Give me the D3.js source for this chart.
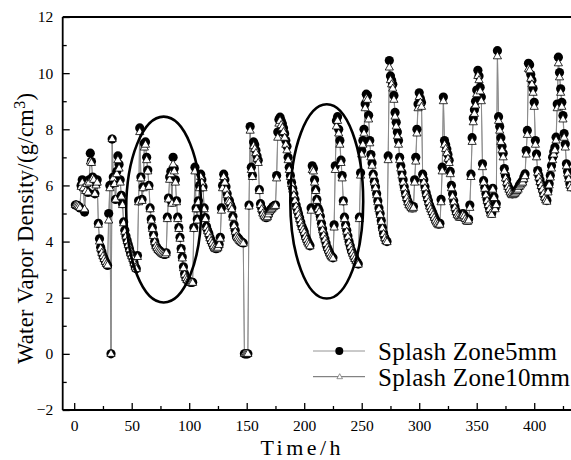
<!DOCTYPE html>
<html><head><meta charset="utf-8">
<script src="https://cdn.jsdelivr.net/npm/d3@7"></script>
<style>body{margin:0;background:#fff}svg{display:block}</style>
</head><body><svg id="c" width="571" height="460"></svg>
<script>
// hourly samples starting at hour 1
const startHour = 1;
const seriesNames = ["Splash Zone5mm", "Splash Zone10mm"];
const zone5mm = [
5.3,5.3,5.28,5.25,5.2,6.0,6.2,5.95,5.05,5.85,
6.1,5.75,6.2,7.15,6.85,6.3,6.25,5.7,6.05,6.2,
4.65,4.1,3.8,3.65,3.5,3.4,3.3,3.22,3.15,5.0,
6.0,0,7.65,6.3,6.1,5.5,6.5,7.05,6.75,6.2,
5.65,5.35,4.7,4.4,4.2,4.05,3.9,3.75,3.6,3.5,
3.4,3.25,3.1,3.03,3.5,5.45,8.05,6.3,5.5,5.95,
7.5,7.55,7.0,6.55,6.0,5.2,4.8,4.5,4.25,4.0,
3.85,3.78,3.72,3.68,3.64,3.6,3.57,3.55,3.54,3.6,
4.87,5.55,6.3,6.5,5.4,7.0,6.6,6.2,5.45,4.87,
4.5,4.15,3.75,3.45,3.1,2.85,2.72,2.65,2.6,2.57,
2.55,2.55,2.55,4.5,6.65,5.2,4.8,5.45,6.0,6.4,
6.2,5.95,5.2,4.85,4.55,4.4,4.3,4.15,4.05,3.95,
3.85,3.78,3.75,3.75,3.8,3.9,4.15,5.2,6.0,6.4,
6.2,5.95,5.7,5.5,5.45,5.3,5.2,4.9,4.6,4.4,
4.2,4.15,4.1,4.05,4.0,3.97,3.95,0,0,0,
0,5.3,8.1,6.65,6.35,7.55,7.45,7.25,7.05,6.9,
5.85,5.35,5.2,5.05,4.95,4.9,4.85,4.9,5.0,5.1,
5.15,5.2,5.25,5.28,5.3,6.35,7.9,8.35,8.43,8.3,
8.2,8.05,7.85,7.6,7.4,7.0,6.65,6.35,6.1,5.9,
5.7,5.5,5.3,5.15,5.0,4.85,4.7,4.55,4.45,4.35,
4.2,4.1,4.0,3.92,3.85,5.2,6.7,6.6,6.2,5.85,
5.5,5.2,5.1,4.9,4.65,4.45,4.25,4.1,3.95,3.8,
3.7,3.6,3.52,3.46,3.42,4.6,6.7,8.3,8.45,8.0,
7.6,6.9,6.35,5.45,4.87,4.6,4.4,4.2,4.0,3.85,
3.7,3.6,3.5,3.4,3.32,3.25,3.2,4.87,6.45,7.25,
7.6,8.0,8.9,9.25,9.2,8.5,7.6,7.1,6.8,6.4,
6.15,5.95,5.7,5.45,5.2,5.0,4.75,4.5,4.3,4.15,
4.05,4.0,7.05,10.45,9.9,9.75,9.6,9.2,8.6,8.25,
7.9,7.6,7.0,6.7,6.45,6.2,5.95,5.75,5.6,5.45,
5.35,5.3,5.25,5.2,5.25,6.2,7.0,8.0,8.9,9.3,
9.1,8.95,6.4,6.2,5.95,5.75,5.6,5.45,5.3,5.2,
5.1,5.0,4.9,4.8,4.72,4.66,4.62,4.65,5.5,6.65,
9.15,7.6,7.45,7.3,7.1,6.9,6.5,6.0,5.7,5.45,
5.25,5.1,5.0,4.95,4.9,4.9,4.95,5.0,4.95,4.85,
4.78,4.75,4.8,5.3,6.4,7.7,8.4,8.7,9.0,9.4,
10.1,9.9,9.5,9.15,6.77,6.17,5.93,5.7,5.5,5.35,
5.2,5.05,5.0,5.9,5.6,5.2,5.35,10.8,8.45,8.1,
7.7,7.4,7.15,6.6,6.35,6.2,6.0,5.9,5.8,5.72,
5.7,5.72,5.76,5.8,5.85,5.9,6.0,6.06,6.12,6.17,
6.3,6.41,7.24,7.96,10.35,10.3,9.95,9.75,9.45,8.96,
7.6,7.12,6.53,6.35,6.2,6.05,5.9,5.75,5.62,5.52,
5.46,5.82,6.06,6.35,6.7,7.0,7.2,7.36,7.72,8.9,
10.57,10.02,9.44,8.96,8.49,7.85,7.48,6.77,6.5,6.3,
6.06,5.95
];
const zone10mm = [
5.3,5.3,5.28,5.25,5.2,5.95,6.1,5.9,5.15,5.8,
6.05,5.75,6.1,6.85,6.8,6.25,6.2,5.7,6.0,6.1,
4.6,4.0,3.75,3.6,3.48,3.38,3.28,3.2,3.15,4.75,
5.9,0,7.65,6.25,6.05,5.5,6.4,6.9,6.6,6.1,
5.6,5.3,4.65,4.35,4.18,4.02,3.88,3.73,3.58,3.48,
3.38,3.23,3.08,3.02,3.45,5.4,7.9,6.25,5.45,5.9,
7.35,7.45,6.9,6.5,5.95,5.15,4.75,4.45,4.2,3.98,
3.83,3.76,3.7,3.66,3.62,3.58,3.55,3.53,3.52,3.58,
4.8,5.5,6.2,6.4,5.35,6.75,6.5,6.1,5.4,4.8,
4.45,4.1,3.7,3.4,3.05,2.82,2.7,2.63,2.58,2.55,
2.53,2.53,2.53,4.45,6.5,5.15,4.75,5.4,5.9,6.3,
6.1,5.9,5.15,4.8,4.5,4.37,4.27,4.12,4.02,3.93,
3.83,3.76,3.73,3.73,3.78,3.88,4.1,5.1,5.9,6.3,
6.1,5.85,5.65,5.45,5.4,5.25,5.15,4.85,4.55,4.35,
4.18,4.12,4.07,4.02,3.98,3.95,3.93,0,0,0,
0,5.25,7.95,6.55,6.3,7.4,7.3,7.15,6.95,6.8,
5.8,5.3,5.15,5.0,4.92,4.87,4.83,4.87,4.97,5.07,
5.12,5.17,5.22,5.25,5.27,6.25,7.7,8.2,8.3,8.15,
8.05,7.9,7.7,7.45,7.25,6.9,6.55,6.3,6.05,5.85,
5.65,5.45,5.25,5.1,4.95,4.8,4.66,4.52,4.42,4.32,
4.17,4.07,3.97,3.9,3.83,5.1,6.55,6.5,6.1,5.8,
5.45,5.15,5.05,4.85,4.6,4.4,4.22,4.07,3.92,3.78,
3.68,3.58,3.5,3.44,3.4,4.5,6.55,8.1,8.3,7.85,
7.45,6.8,6.25,5.4,4.8,4.55,4.35,4.17,3.97,3.82,
3.68,3.57,3.47,3.38,3.3,3.23,3.18,4.8,6.35,7.1,
7.45,7.85,8.75,9.1,9.05,8.35,7.5,7.0,6.7,6.35,
6.1,5.9,5.65,5.4,5.15,4.95,4.7,4.47,4.27,4.12,
4.02,3.98,6.9,10.2,9.75,9.6,9.45,9.05,8.45,8.1,
7.75,7.45,6.9,6.6,6.35,6.1,5.9,5.7,5.55,5.4,
5.3,5.25,5.2,5.15,5.2,6.1,6.85,7.85,8.75,9.15,
8.95,8.8,6.3,6.1,5.9,5.7,5.55,5.4,5.25,5.15,
5.05,4.95,4.85,4.75,4.68,4.62,4.58,4.6,5.4,6.5,
9.0,7.45,7.3,7.15,6.95,6.8,6.4,5.9,5.6,5.4,
5.2,5.05,4.95,4.9,4.85,4.85,4.9,4.95,4.9,4.8,
4.73,4.7,4.75,5.2,6.3,7.55,8.25,8.55,8.85,9.25,
9.9,9.75,9.35,9.0,6.65,6.1,5.88,5.65,5.45,5.3,
5.15,5.0,4.95,5.85,5.55,5.15,5.3,10.6,8.3,7.95,
7.55,7.25,7.0,6.5,6.25,6.1,5.95,5.85,5.75,5.68,
5.65,5.67,5.7,5.75,5.8,5.85,5.95,6.0,6.06,6.1,
6.22,6.33,7.1,7.8,10.15,10.1,9.8,9.6,9.3,8.8,
7.45,7.0,6.45,6.28,6.12,5.98,5.85,5.7,5.57,5.47,
5.42,5.75,6.0,6.28,6.6,6.9,7.1,7.25,7.6,8.75,
10.35,9.85,9.3,8.8,8.35,7.7,7.35,6.68,6.42,6.22,
6.0,5.9
];
const xTicks = [0, 50, 100, 150, 200, 250, 300, 350, 400];
const xMinorTicks = [25, 75, 125, 175, 225, 275, 325, 375, 425];
const yTicks = [-2, 0, 2, 4, 6, 8, 10, 12];
const yMinorTicks = [-1, 1, 3, 5, 7, 9, 11];
// highlighted regions (hour centre, value centre, half-width in hours, half-height in value)
const highlightRegions = [
  {t: 77.8, v: 5.14, rt: 32.6, rv: 3.31},
  {t: 219.6, v: 5.43, rt: 31.7, rv: 3.46}
];

const svg = d3.select("#c");
const L = 62.7, T = 17, B = 410, R = 571.6;
const x = d3.scaleLinear().domain([-10, 432.5]).range([L, R]);
const y = d3.scaleLinear().domain([-2, 12]).range([B, T]);
const hours = zone5mm.map((d, i) => startHour + i);
const s1 = hours.map((t, i) => ({t, v: zone5mm[i]}));
const s2 = hours.map((t, i) => ({t, v: zone10mm[i]}));
const serif = "'Liberation Serif','Times New Roman',serif";

function styleAxis(g, fs) {
  g.attr("font-family", serif).attr("font-size", fs);
  g.select(".domain").remove();
  g.selectAll("line").attr("stroke", "#000").attr("stroke-width", 1.3);
  g.selectAll("text").attr("fill", "#000");
}
// x axis
svg.append("g").attr("transform", `translate(0,${B})`)
  .call(d3.axisBottom(x).tickValues(xTicks).tickSize(-7).tickPadding(10).tickFormat(d3.format("d")))
  .call(g => styleAxis(g, 15.5));
svg.append("g").attr("transform", `translate(0,${B})`)
  .call(d3.axisBottom(x).tickValues(xMinorTicks).tickSize(-4).tickFormat(""))
  .call(g => styleAxis(g, 15.5));
// y axis
svg.append("g").attr("transform", `translate(${L},0)`)
  .call(d3.axisLeft(y).tickValues(yTicks).tickSize(-7).tickPadding(9.5).tickFormat(d3.format("d")))
  .call(g => styleAxis(g, 15.5));
svg.append("g").attr("transform", `translate(${L},0)`)
  .call(d3.axisLeft(y).tickValues(yMinorTicks).tickSize(-4).tickFormat(""))
  .call(g => styleAxis(g, 15.5));

// frame lines
svg.append("line").attr("x1", L).attr("x2", 571).attr("y1", B).attr("y2", B).attr("stroke", "#000").attr("stroke-width", 1.8);
svg.append("line").attr("x1", L).attr("x2", 571).attr("y1", T).attr("y2", T).attr("stroke", "#000").attr("stroke-width", 1.8);
svg.append("line").attr("x1", L).attr("x2", L).attr("y1", T).attr("y2", B).attr("stroke", "#000").attr("stroke-width", 1.8);

// titles
svg.append("text").attr("x", 300.5).attr("y", 455).attr("text-anchor", "middle")
  .attr("font-family", serif).attr("font-size", 22).attr("textLength", 80).attr("fill", "#000").text("Time/h");
const yt = svg.append("text").attr("transform", "translate(33,364) rotate(-90)")
  .attr("font-family", serif).attr("font-size", 22.5).attr("letter-spacing", 0.35).attr("fill", "#000");
yt.append("tspan").text("Water Vapor Density/(g/cm");
yt.append("tspan").attr("dy", -8).attr("font-size", 16).text("3");
yt.append("tspan").attr("dy", 8).text(")");

// data
const line = d3.line().x(d => x(d.t)).y(d => y(d.v));
svg.append("path").datum(s1).attr("d", line).attr("fill", "none").attr("stroke", "#6e6e6e").attr("stroke-width", 0.8);
svg.append("path").datum(s2).attr("d", line).attr("fill", "none").attr("stroke", "#8a8a8a").attr("stroke-width", 0.8);
svg.append("g").selectAll("circle").data(s1).join("circle")
  .attr("cx", d => x(d.t)).attr("cy", d => y(d.v)).attr("r", 4.6).attr("fill", "#000");
const tri = "M0,-4.6L4.1,2.5L-4.1,2.5Z";
svg.append("g").selectAll("path").data(s2).join("path")
  .attr("d", tri).attr("transform", d => `translate(${x(d.t)},${y(d.v)})`)
  .attr("fill", "#fff").attr("stroke", "#000").attr("stroke-width", 0.8);

// highlight ellipses
svg.append("g").selectAll("ellipse").data(highlightRegions).join("ellipse")
  .attr("cx", d => x(d.t)).attr("cy", d => y(d.v))
  .attr("rx", d => x(d.t + d.rt) - x(d.t)).attr("ry", d => y(d.v - d.rv) - y(d.v))
  .attr("fill", "none").attr("stroke", "#000").attr("stroke-width", 2.6);

// legend
const lg = svg.append("g");
[0, 1].forEach(i => {
  const yy = 351 + i * 25.7;
  lg.append("line").attr("x1", 313).attr("x2", 365).attr("y1", yy).attr("y2", yy)
    .attr("stroke", i ? "#555" : "#888").attr("stroke-width", 0.9);
  if (i === 0) lg.append("circle").attr("cx", 339.3).attr("cy", yy).attr("r", 4).attr("fill", "#000");
  else lg.append("path").attr("d", "M0,-3L2.8,2L-2.8,2Z").attr("transform", `translate(339.7,${yy})`)
    .attr("fill", "#fff").attr("stroke", "#777").attr("stroke-width", 0.8);
  lg.append("text").attr("x", 378).attr("y", yy + 9).attr("font-family", serif).attr("font-size", 25)
    .attr("textLength", i ? 192 : 179).attr("fill", "#000").text(seriesNames[i]);
});
</script>
</body></html>
